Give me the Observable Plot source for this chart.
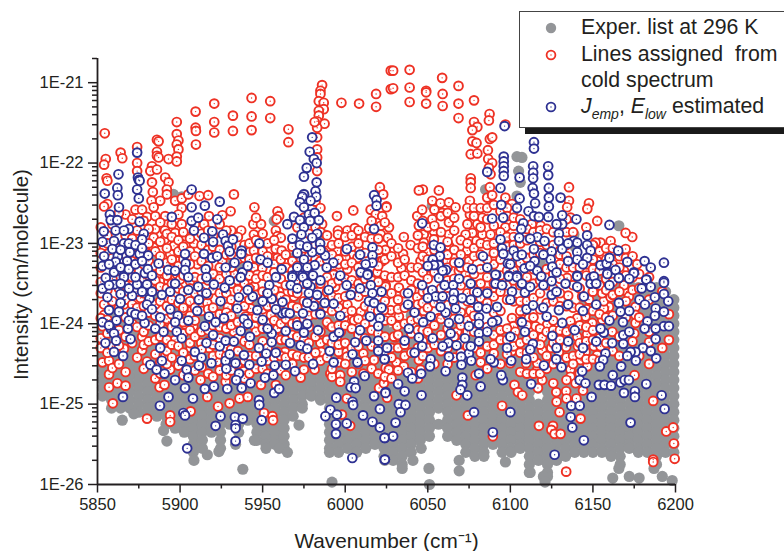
<!DOCTYPE html>
<html><head><meta charset="utf-8">
<script src="https://cdn.jsdelivr.net/npm/d3@7"></script>
<script src="https://cdn.jsdelivr.net/npm/@observablehq/plot@0.6"></script>
<style>
html,body{margin:0;padding:0;background:#fff;width:784px;height:551px;overflow:hidden}
#wrap{position:relative;width:784px;height:551px;font-family:"Liberation Sans",Arial,sans-serif;color:#231f20}
#legend{position:absolute;left:519px;top:11px;width:270px;height:115px;background:#fff;border:1px solid #444;box-sizing:content-box}
#shadow{position:absolute;left:525px;top:127px;width:259px;height:7px;background:#1a1a1a}
.row{position:absolute;left:61px;font-size:21.3px;line-height:26px;white-space:nowrap}
.row sub{font-size:14px;line-height:0;font-style:italic;vertical-align:-6px}
#legend svg{position:absolute;left:0;top:0}
</style></head><body><div id="wrap"><div id="chart"></div>
<div id="shadow"></div>
<div id="legend">
<svg width="80" height="115"><circle cx="31" cy="16" r="5.2" fill="#939598"/><circle cx="31" cy="43" r="4.4" fill="#fff" stroke="#ee3124" stroke-width="1.8"/><circle cx="31" cy="43" r="0.7" fill="#ee3124"/><circle cx="31" cy="95" r="4.4" fill="#fff" stroke="#2e3192" stroke-width="1.8"/><circle cx="31" cy="95" r="0.7" fill="#2e3192"/></svg>
<div class="row" style="top:2px">Exper. list at 296 K</div>
<div class="row" style="top:29px">Lines assigned&nbsp; from</div>
<div class="row" style="top:55px">cold spectrum</div>
<div class="row" style="top:81px"><i>J<sub>emp</sub></i>, <i>E<sub>low</sub></i> estimated</div>
</div></div>
<script>
const xTicks=[5850,5900,5950,6000,6050,6100,6150,6200];
const xMinorTicks=[5875,5925,5975,6025,6075,6125,6175];
const yTicks=[1e-26,1e-25,1e-24,1e-23,1e-22,1e-21];
const yMinorTicks=[2e-26,3e-26,4e-26,5e-26,6e-26,7e-26,8e-26,9e-26,2e-25,3e-25,4e-25,5e-25,6e-25,7e-25,8e-25,9e-25,2e-24,3e-24,4e-24,5e-24,6e-24,7e-24,8e-24,9e-24,2e-23,3e-23,4e-23,5e-23,6e-23,7e-23,8e-23,9e-23,2e-22,3e-22,4e-22,5e-22,6e-22,7e-22,8e-22,9e-22,2e-21];

// Each gray column: wavenumber, then log10(intensity) of the lines read at it
const grayColumns=[
[5853,-24,-24.1,-24.2,-24.3,-24.4,-24.5,-24.6,-24.7,-24.8,-24.9],
[5858.5,-23.95,-24.05,-24.15,-24.25,-24.35,-24.45,-24.55,-24.65,-24.75,-24.85,-24.95,-25.05],
[5864,-24,-24.1,-24.2,-24.3,-24.4,-24.5,-24.6,-24.7,-24.8,-24.9,-25,-25.05],
[5869.5,-23.95,-24.05,-24.15,-24.25,-24.35,-24.45,-24.55,-24.65,-24.75,-24.85,-24.95,-25.05],
[5875,-24,-24.1,-24.2,-24.3,-24.4,-24.5,-24.6,-24.7,-24.8,-24.9,-25,-25.1],
[5880.5,-23.95,-24.05,-24.15,-24.25,-24.35,-24.45,-24.55,-24.65,-24.75,-24.85,-24.95,-25.05,-25.15],
[5886,-24,-24.1,-24.2,-24.3,-24.4,-24.5,-24.6,-24.7,-24.8,-24.9,-25,-25.1,-25.15],
[5891.5,-23.95,-24.05,-24.15,-24.25,-24.35,-24.45,-24.55,-24.65,-24.75,-24.85,-24.95,-25.05,-25.15,-25.25],
[5897,-24,-24.1,-24.2,-24.3,-24.4,-24.5,-24.6,-24.7,-24.8,-24.9,-25,-25.1,-25.2,-25.3],
[5902.5,-23.95,-24.05,-24.15,-24.25,-24.35,-24.45,-24.55,-24.65,-24.75,-24.85,-24.95,-25.05,-25.15,-25.25,-25.35],
[5908,-24,-24.1,-24.2,-24.3,-24.4,-24.5,-24.6,-24.7,-24.8,-24.9,-25,-25.1,-25.2,-25.3,-25.4,-25.5,-25.6],
[5913.5,-23.95,-24.05,-24.15,-24.25,-24.35,-24.45,-24.55,-24.65,-24.75,-24.85,-24.95,-25.05,-25.15,-25.25,-25.35,-25.45,-25.55],
[5919,-24,-24.1,-24.2,-24.3,-24.4,-24.5,-24.6,-24.7,-24.8,-24.9,-25,-25.1,-25.2,-25.3,-25.35],
[5924.5,-23.95,-24.05,-24.15,-24.25,-24.35,-24.45,-24.55,-24.65,-24.75,-24.85,-24.95,-25.05,-25.15,-25.25,-25.35,-25.45,-25.55],
[5930,-24,-24.1,-24.2,-24.3,-24.4,-24.5,-24.6,-24.7,-24.8,-24.9,-25,-25.1,-25.2,-25.25],
[5935.5,-23.95,-24.05,-24.15,-24.25,-24.35,-24.45,-24.55,-24.65,-24.75,-24.85,-24.95,-25.05,-25.15,-25.25,-25.35],
[5941,-24,-24.1,-24.2,-24.3,-24.4,-24.5,-24.6,-24.7,-24.8,-24.9,-25,-25.1,-25.2],
[5946.5,-23.95,-24.05,-24.15,-24.25,-24.35,-24.45,-24.55,-24.65,-24.75,-24.85,-24.95,-25.05,-25.15,-25.25,-25.35,-25.45],
[5952,-24,-24.1,-24.2,-24.3,-24.4,-24.5,-24.6,-24.7,-24.8,-24.9,-25,-25.1,-25.2,-25.3,-25.4,-25.5],
[5957.5,-23.95,-24.05,-24.15,-24.25,-24.35,-24.45,-24.55,-24.65,-24.75,-24.85,-24.95,-25.05,-25.15,-25.25,-25.35,-25.45,-25.5],
[5963,-24,-24.1,-24.2,-24.3,-24.4,-24.5,-24.6,-24.7,-24.8,-24.9,-25,-25.1,-25.2,-25.3,-25.4,-25.5,-25.55],
[5968.5,-23.95,-24.05,-24.15,-24.25,-24.35,-24.45,-24.55,-24.65,-24.75,-24.85,-24.95,-25.05,-25.15],
[5974,-24,-24.1,-24.2,-24.3,-24.4,-24.5,-24.6,-24.7,-24.8,-24.9,-25,-25.05],
[5979.5,-23.95,-24.05,-24.15,-24.25,-24.35,-24.45,-24.55,-24.65,-24.75,-24.85,-24.9],
[5985,-24,-24.1,-24.2,-24.3,-24.4,-24.5,-24.6,-24.7,-24.8,-24.9,-24.95],
[5990.5,-23.95,-24.05,-24.15,-24.25,-24.35,-24.45,-24.55,-24.65,-24.75,-24.85,-24.95,-25.05,-25.15,-25.25,-25.35,-25.45,-25.55,-25.6],
[5996,-24,-24.1,-24.2,-24.3,-24.4,-24.5,-24.6,-24.7,-24.8,-24.9,-25,-25.1,-25.2,-25.3,-25.4,-25.5,-25.6],
[6001.5,-24.05,-24.15,-24.25,-24.35,-24.45,-24.55,-24.65,-24.75,-24.85,-24.95,-25.05,-25.15,-25.25,-25.35,-25.45,-25.55],
[6007,-24.1,-24.2,-24.3,-24.4,-24.5,-24.6,-24.7,-24.8,-24.9,-25,-25.1,-25.2,-25.3,-25.4,-25.5,-25.6],
[6012.5,-24.05,-24.15,-24.25,-24.35,-24.45,-24.55,-24.65,-24.75,-24.85,-24.95,-25.05,-25.15,-25.25,-25.35,-25.45,-25.55],
[6018,-24.1,-24.2,-24.3,-24.4,-24.5,-24.6,-24.7,-24.8,-24.9,-25,-25.1,-25.2,-25.3,-25.4,-25.5],
[6023.5,-24.05,-24.15,-24.25,-24.35,-24.45,-24.55,-24.65,-24.75,-24.85,-24.95,-25.05,-25.15,-25.25,-25.35,-25.45,-25.55,-25.65],
[6029,-24.1,-24.2,-24.3,-24.4,-24.5,-24.6,-24.7,-24.8,-24.9,-25,-25.1,-25.2,-25.3,-25.4,-25.5,-25.6,-25.7],
[6034.5,-24.05,-24.15,-24.25,-24.35,-24.45,-24.55,-24.65,-24.75,-24.85,-24.95,-25.05,-25.15,-25.25,-25.35,-25.45,-25.55,-25.65,-25.75,-25.8],
[6040,-24.1,-24.2,-24.3,-24.4,-24.5,-24.6,-24.7,-24.8,-24.9,-25,-25.1,-25.2,-25.3,-25.4,-25.5,-25.6],
[6045.5,-24.05,-24.15,-24.25,-24.35,-24.45,-24.55,-24.65,-24.75,-24.85,-24.95,-25.05,-25.15,-25.25,-25.35,-25.45],
[6051,-24.1,-24.2,-24.3,-24.4,-24.5,-24.6,-24.7,-24.8,-24.9,-25,-25.1,-25.2,-25.3,-25.4],
[6056.5,-24.05,-24.15,-24.25,-24.35,-24.45,-24.55,-24.65,-24.75,-24.85,-24.95,-25.05,-25.25],
[6062,-24.1,-24.2,-24.3,-24.4,-24.5,-24.6,-24.7,-24.8,-24.9,-25,-25.1,-25.2,-25.3,-25.4],
[6067.5,-24.05,-24.15,-24.25,-24.35,-24.45,-24.55,-24.65,-24.75,-24.85,-24.95,-25.05,-25.15,-25.25,-25.35,-25.45],
[6073,-24.1,-24.2,-24.3,-24.4,-24.5,-24.6,-24.7,-24.8,-24.9,-25,-25.1,-25.2,-25.3,-25.4,-25.5,-25.6],
[6078.5,-24.05,-24.15,-24.25,-24.35,-24.45,-24.55,-24.65,-24.75,-24.85,-24.95,-25.05,-25.15,-25.25,-25.35,-25.45,-25.55,-25.65],
[6084,-24.1,-24.2,-24.3,-24.4,-24.5,-24.6,-24.7,-24.8,-24.9,-25,-25.1,-25.2,-25.3,-25.4,-25.5,-25.6,-25.65],
[6089.5,-24.05,-24.15,-24.25,-24.35,-24.45,-24.55,-24.65,-24.75,-24.85,-24.95,-25.05,-25.15,-25.25,-25.35,-25.45,-25.5],
[6095,-24.1,-24.2,-24.3,-24.4,-24.5,-24.6,-24.7,-24.8,-24.9,-25,-25.1,-25.2,-25.3,-25.4,-25.5,-25.6],
[6100.5,-24.05,-24.15,-24.25,-24.35,-24.45,-24.55,-24.65,-24.75,-24.85,-24.95,-25.05,-25.15,-25.25,-25.35,-25.45,-25.55,-25.6],
[6106,-24.1,-24.2,-24.3,-24.4,-24.5,-24.6,-24.7,-24.8,-24.9,-25,-25.1,-25.2,-25.3,-25.4,-25.5,-25.55],
[6111.5,-24.15,-24.25,-24.35,-24.45,-24.55,-24.65,-24.75,-24.85,-24.95,-25.05,-25.15,-25.25,-25.35,-25.45,-25.55,-25.65,-25.75,-25.85],
[6117,-24.2,-24.3,-24.4,-24.5,-24.6,-24.7,-24.8,-25,-25.1,-25.2,-25.3,-25.4,-25.5,-25.6,-25.7],
[6122.5,-24.15,-24.25,-24.35,-24.45,-24.55,-24.65,-24.75,-24.85,-24.95,-25.05,-25.15,-25.25,-25.35,-25.45,-25.55,-25.65,-25.75,-25.85,-25.9],
[6128,-24.1,-24.2,-24.3,-24.4,-24.5,-24.6,-24.7,-24.8,-24.9,-25,-25.1,-25.2,-25.3,-25.4,-25.5,-25.6,-25.7],
[6133.5,-24.05,-24.15,-24.25,-24.35,-24.45,-24.55,-24.65,-24.75,-24.85,-24.95,-25.05,-25.15,-25.25,-25.35,-25.45,-25.55,-25.65],
[6139,-24,-24.1,-24.2,-24.3,-24.4,-24.5,-24.6,-24.7,-24.8,-24.9,-25,-25.1,-25.2,-25.3,-25.4,-25.5,-25.6],
[6144.5,-23.75,-23.85,-23.95,-24.05,-24.15,-24.25,-24.35,-24.45,-24.55,-24.65,-24.75,-24.85,-24.95,-25.05,-25.15,-25.25,-25.35,-25.45,-25.55,-25.6],
[6150,-23.6,-23.7,-23.8,-23.9,-24,-24.1,-24.2,-24.3,-24.4,-24.5,-24.6,-24.7,-24.8,-24.9,-25,-25.1,-25.2,-25.3,-25.4,-25.5,-25.6],
[6155.5,-23.55,-23.65,-23.75,-23.85,-23.95,-24.05,-24.15,-24.25,-24.35,-24.45,-24.55,-24.65,-24.75,-24.85,-24.95,-25.05,-25.15,-25.25,-25.35,-25.45,-25.55,-25.6],
[6161,-23.5,-23.6,-23.7,-23.8,-23.9,-24,-24.1,-24.2,-24.3,-24.4,-24.5,-24.6,-24.7,-24.8,-24.9,-25,-25.1,-25.2,-25.3,-25.4,-25.5,-25.6,-25.65],
[6166.5,-23.55,-23.65,-23.75,-23.85,-23.95,-24.05,-24.15,-24.25,-24.35,-24.45,-24.55,-24.65,-24.75,-24.85,-24.95,-25.05,-25.15,-25.25,-25.35,-25.45,-25.55,-25.65,-25.75],
[6172,-23.5,-23.6,-23.7,-23.8,-23.9,-24,-24.1,-24.2,-24.3,-24.4,-24.5,-24.6,-24.7,-24.8,-24.9,-25,-25.1,-25.2,-25.3,-25.4,-25.5,-25.55],
[6177.5,-23.55,-23.65,-23.75,-23.85,-23.95,-24.05,-24.15,-24.25,-24.35,-24.45,-24.55,-24.65,-24.75,-24.85,-24.95,-25.05,-25.15,-25.25,-25.35,-25.45,-25.55,-25.6],
[6183,-23.5,-23.6,-23.7,-23.8,-23.9,-24,-24.1,-24.2,-24.3,-24.4,-24.5,-24.6,-24.7,-24.8,-24.9,-25,-25.1,-25.2,-25.3,-25.4,-25.5,-25.6],
[6188.5,-23.55,-23.65,-23.75,-23.85,-23.95,-24.05,-24.15,-24.25,-24.35,-24.45,-24.55,-24.65,-24.75,-24.85,-24.95,-25.05,-25.15,-25.25,-25.35,-25.45,-25.55,-25.65,-25.75],
[6194,-23.6,-23.7,-23.8,-23.9,-24,-24.1,-24.2,-24.3,-24.4,-24.5,-24.6,-24.7,-24.8,-24.9,-25,-25.1,-25.2,-25.3,-25.4,-25.5,-25.6],
[6199,-23.7,-23.8,-23.9,-24,-24.1,-24.2,-24.3,-24.4,-24.5,-24.6,-24.7,-24.8,-24.9,-25,-25.1,-25.2,-25.3,-25.4,-25.5,-25.6]
];
// Gray lines standing apart from the main mass
const grayIsolated=[[5865,-25.2],[5872,-25.12],[5890,-25.33],[5892,-25.46],[5908.4,-25.7],[5916.5,-25.63],[5923.5,-25.59],[5933.6,-25.5],[5938,-25.81],[5945,-25.45],[5952,-25.55],[5960,-25.55],[5965,-25.6],[5972,-25.26],[5992,-25.97],[6024,-25.7],[6050.7,-25.8],[6051,-26],[6069,-25.7],[6069,-25.83],[6097,-25.72],[6112,-25.85],[6120,-25.9],[6121,-25.97],[6162,-25.92],[6165.7,-25.8],[6172,-25.9],[6178,-25.92],[6187,-25.8],[6192,-25.9],[6198,-25.95],[6046,-25.55],[6041,-25.7],
[5896,-22.39],[5901,-22.42],[5959,-22.68],[5957,-22.72],[5975,-22.39],[5987,-22.89],[5968,-23.18],[5887,-23.18],[5932,-23.22],[5936,-23.3],[6104,-21.92],[6107,-21.93],[6105,-22.1],[6106,-22.24],[6104,-22.41],[6085,-22.33],[6052.7,-22.53],[6165.7,-22.78],[6138.5,-22.89],[6139.5,-23.05],[6140.5,-23.26],[6118,-23.22],[6120,-23.3],[6090,-23.38],[6154,-23.38],[5860,-23.85],[5885,-23.7],[5900,-23.8],[5925,-23.85],[5945,-23.75],[5970,-23.7],[5985,-23.8],[6010,-23.85],[6040,-23.9],[6075,-23.85],[6110,-23.95],[6135,-23.75]];

const redLines=[[5854.4,-21.63],[5855,-21.95],[5854,-22.02],[5864,-21.87],[5865,-21.94],[5855.5,-22.19],[5856,-22.22],[5874,-21.8],[5874,-22],[5874,-22.1],[5886,-21.71],[5887,-21.73],[5886,-21.86],[5886,-21.91],[5887,-21.93],[5893,-21.95],[5898,-21.49],[5898,-21.64],[5899,-21.72],[5898,-21.77],[5899,-21.83],[5898,-21.92],[5898,-21.98],[5909.4,-21.36],[5909.4,-21.56],[5909.6,-21.6],[5909.6,-21.77],[5920.7,-21.26],[5920.7,-21.49],[5920.7,-21.62],[5932,-21.41],[5932,-21.6],[5943.3,-21.19],[5943.3,-21.42],[5943.3,-21.59],[5954.6,-21.23],[5954.6,-21.44],[5965.6,-21.58],[5965.6,-21.74],[5986,-21.03],[5985,-21.1],[5985,-21.14],[5984,-21.23],[5987,-21.25],[5987,-21.33],[5984,-21.35],[5984,-21.41],[5983,-21.48],[5987.5,-21.51],[5983,-21.56],[5981.5,-21.49],[5983,-21.68],[5983,-21.83],[5983,-21.93],[5983,-22.1],[5997.7,-21.25],[6008.4,-21.26],[6018.7,-21.14],[6018.7,-21.3],[6027.6,-20.85],[6027.6,-21.08],[6029,-20.85],[6039,-20.84],[6029,-21.07],[6039,-21.06],[6039,-21.24],[6049,-21.1],[6049,-21.12],[6049,-21.26],[6058.7,-20.94],[6059,-21.14],[6059,-21.29],[6068.6,-21.04],[6068.6,-21.26],[6068.6,-21.44],[6078,-21.22],[6087.4,-21.39],[6087,-21.47],[6078,-21.49],[6080,-21.55],[6077,-21.59],[6087.6,-21.7],[6089,-21.68],[6077,-21.73],[6079.5,-21.75],[6086.4,-21.84],[6076,-21.89],[6080,-21.88],[6086.6,-21.95],[6089,-22],[6087,-22.06],[6088,-22.14],[6076,-22.19],[6076,-22.24],[6076,-22.31],[6097,-21.52],[6087.6,-22.3],[6135.5,-22.3],[6047,-22.33],[6044.6,-22.34],[6056.7,-22.34],[6147.6,-22.5],[6146.6,-22.57],[6075.5,-22.47],[6152.6,-22.72],[6173.8,-22.92],[6169.8,-22.87],
[5883,-22.04],[5882,-22.1],[5886,-22.08],[5883,-22.24],[5891,-22.18],[5893,-22.24],[5883.5,-22.36],[5892,-22.33],[5892,-22.39],[5882.7,-22.47],[5888,-22.47],[5897,-22.47],[5901,-22.44],[5905,-22.39],[5911.8,-22.41],[5917,-22.4],[5932.6,-22.39],[5873,-22.58],[5877,-22.58],[5884,-22.55],[5901,-22.56],[5945,-22.55],[5930.6,-22.6],[5925.6,-22.65],[5917.5,-22.66],[5959,-22.6],[5960,-22.66],[5958.5,-22.7],[6004.9,-22.59],[5995,-22.66],[6015.4,-22.58],[6018.5,-22.64],[6025,-22.54],[6021,-22.3],[6023,-22.39],[5867,-22.64],[5880,-22.67],[5891,-22.66],[5856,-22.51],[5854,-22.54],[5944.4,-22.76],[5949,-22.76],[5944.7,-22.89],[5931,-22.84],[5937,-22.84],[5958,-22.84],[5959,-22.91],[5961,-22.93],[5995.6,-22.84],[6001.3,-22.84],[6005.8,-22.81],[6009.4,-22.93],[5995.6,-22.89],[6014.5,-22.81],[6021.5,-22.78],[6025.5,-22.93],[6024.5,-23.09],[6021.5,-22.89],[6008.4,-23.08],[6000.3,-23.18],[5995.3,-23.09],[5989.6,-23.09],[5996,-23.26],[5993,-23.38],[6001.3,-23.32],[6007.4,-23.18],[6021.5,-23.22],[6019.5,-23.36],[5885,-22.82],[5890.8,-22.84],[5897,-22.87],[5901,-22.76],[5884,-22.93],[5890.6,-22.95],[5896.3,-23.03],[5903.4,-22.91],[5884,-23.05],[5894,-23.13],[5898,-23.22],[5914.5,-22.76],[5908.4,-23],[5944.7,-23.09],[5957.9,-23.07],[5961.5,-23.09],[5956.9,-23.18],[5959,-23.18],[5944.7,-23.3],[5949.8,-23.31],[5956.9,-23.26],[5986,-22.76],[5987,-23.11],[5910.4,-23.26],[5925.6,-23.22],[5932.6,-23.38],[5852,-22.8],[5854,-23.03],[5852,-23.3],[5870,-23.34],[5864,-23.3],[5886,-23.38],[5898,-23.38],
[6025,-22.55],[6022.4,-22.66],[6026.5,-22.8],[6025.8,-22.93],[6035.5,-22.92],[6039.6,-23.02],[6024.4,-23.08],[6035,-23.13],[6034,-23.31],[6022.4,-23.22],[6043.6,-22.66],[6046.6,-22.58],[6052.7,-22.47],[6057.7,-22.5],[6062.8,-22.49],[6066.8,-22.55],[6052.7,-22.7],[6058.7,-22.62],[6062.8,-22.74],[6044.6,-22.78],[6053.7,-22.85],[6047.6,-22.89],[6062.8,-22.89],[6047.6,-22.99],[6053.7,-22.95],[6062.8,-23.03],[6049.7,-23.11],[6045.6,-23.22],[6049.7,-23.3],[6068.8,-23.34],[6061.8,-23.22],[6073.9,-23.09],[6074.9,-23.22],[6072.9,-23.38],[6075.5,-22.64],[6080,-22.76],[6077,-22.87],[6072.9,-22.89],[6079.5,-22.97],[6083,-22.68],[6086,-22.43],[6097,-22.43],[6102,-22.6],[6089,-22.4],[6101,-22.51],[6097,-22.8],[6102,-22.78],[6090,-23.26],[6083,-22.89],[6088,-22.89],[6135.5,-22.47],[6134.4,-22.55],[6118.3,-22.78],[6113,-22.76],[6136.5,-22.68],[6154.6,-22.99],[6160.7,-22.97],[6151.6,-22.99],[6169.8,-23.07],[6160.7,-23.11],[6176.8,-23.26],[6152.6,-23.22],[6134.4,-23.43],[6126,-23.38],[6168.8,-23.34],
[5853,-24.48],[5857,-24.46],[5857,-24.63],[5862,-24.74],[5857,-24.79],[5867,-24.77],[5859.3,-24.99],[5866,-24.31],[5880,-25.18],[5894,-25.14],[5894,-25.22],[5877,-24.33],[5880,-24.47],[5877,-24.16],[5887.6,-24.79],[5890.6,-24.76],[5916.5,-24.91],[5923,-25.03],[5930,-24.99],[5936,-24.93],[5906.4,-25.09],[5941,-24.91],[5955.9,-25.15],[5956.3,-25.2],[5950.8,-25.11],[5927.6,-24.72],[5912.4,-24.7],[5894,-24.57],[5854,-23.89],[5852,-23.93],[5853,-24.03],[5876,-23.89],[5903,-24.01],[5908,-24.03],[5912.8,-24.24],[5906.4,-24.3],[5897,-24.2],[5891,-24.41],[5899,-24.45],[5917.6,-24.3],[5922.5,-24.47],[5932.6,-24.1],[5938.7,-24.59],[5944.3,-23.54],[5955,-23.89],[5959,-24.06],[5945,-24.03],[5963.5,-24.35],[5959,-24.35],[5949,-24.76],[5958,-24.76],[5973,-24.67],[5975,-24.57],[5981.5,-24.57],[5985,-24.24],[5985.5,-24.35],[5990,-24.01],[6001.3,-23.76],[6009.4,-23.85],[6005.4,-23.96],[5999.3,-23.93],[5997.3,-24.1],[5995,-24.16],[5996,-24.35],[5991,-24.62],[5992,-24.66],[5997,-24.64],[5997,-24.72],[6011,-24.62],[6001,-24.35],[6001,-24.41],[6011,-24.37],[6017.5,-24.45],[6020.5,-24.8],[6023.5,-24.73],[6024.5,-24.55],[6001,-24.93],[6003,-25.27],[5998,-25.13],[6024.5,-23.52],[6025.5,-23.64],[6009.4,-23.38],[5993,-23.39],[5994,-23.54],[5969,-23.66],[5960,-23.6],[5946.8,-23.39],[5945,-23.54],[5888,-23.48],[5893,-23.47],[5900,-23.45],[5906,-23.47],[5854,-23.76],[5866,-23.76],[5876,-23.68],[5902,-23.83],[5893,-23.97],[5906.4,-23.74],[5916.5,-23.74],[5942.7,-23.81],[5939.6,-23.91],[5929,-23.79],
[6024.4,-23.54],[6032.5,-23.55],[6043.6,-23.67],[6025,-23.64],[6027.5,-23.83],[6032.5,-23.91],[6023.4,-23.83],[6031.5,-24.03],[6030.5,-24.17],[6029.5,-24.16],[6025.4,-24.43],[6031,-24.48],[6035.5,-24.53],[6026.4,-24.57],[6044.6,-24.45],[6045.6,-24.57],[6023.4,-24.74],[6025.4,-24.92],[6051.7,-24.16],[6047.6,-23.84],[6056.7,-23.93],[6067.8,-24.1],[6071.9,-23.89],[6075.9,-23.84],[6080,-23.52],[6090,-24.37],[6101,-24.34],[6100,-24.49],[6109.6,-24.49],[6079,-24.64],[6102.5,-24.76],[6104.6,-24.85],[6107.2,-24.89],[6067.4,-24.89],[6095,-25.02],[6074.3,-25.14],[6089.4,-25.4],[6117.3,-25.27],[6125.8,-25.27],[6124.8,-25.32],[6126.8,-25.37],[6130.4,-25.37],[6133.8,-25.84],[6116.7,-24.8],[6119.3,-24.7],[6116.3,-24.57],[6116.3,-24.49],[6119.3,-24.17],[6119.3,-24.33],[6124.8,-24.3],[6129.4,-24.35],[6133.8,-24.29],[6140.9,-24.28],[6140.5,-24.16],[6145.5,-24.35],[6150.6,-24.28],[6146.5,-24.13],[6149.6,-23.99],[6145.5,-23.91],[6140.5,-23.93],[6136.4,-23.97],[6122.3,-24.01],[6115.3,-24.03],[6108.2,-23.95],[6101,-23.93],[6102,-24.03],[6103,-24.1],[6111.2,-23.93],[6106,-23.97],[6154.6,-24.28],[6152.6,-24.39],[6142.5,-24.45],[6146.6,-24.53],[6136.4,-24.57],[6136.4,-24.66],[6139.5,-24.74],[6144,-24.83],[6126,-24.74],[6127.8,-24.85],[6133.8,-24.84],[6134,-24.93],[6128,-24.97],[6140,-24.93],[6129.8,-25.1],[6142.5,-25.18],[6155.6,-23.95],[6161.7,-24.1],[6159.7,-23.79],[6156.6,-23.81],[6156.6,-23.72],[6170.4,-23.6],[6168.8,-23.52],[6171.8,-23.66],[6175.8,-23.79],[6175.8,-23.89],[6175.8,-23.99],[6175,-24.12],[6155.6,-23.62],[6160.7,-23.67],[6147.6,-23.7],[6135,-23.65],[6143.5,-23.66],[6184,-24.23],[6175.2,-24.64],[6186.5,-24.96],[6194.4,-25.34],[6198.6,-25.29],[6199,-25.49],[6186.5,-25.69],[6186.5,-25.72],[6199.5,-25.68]];

// Dense red chains, estimated by eye: wavenumber, then log10(intensity)
const redChains=[
[5852,-23.12,-23.48,-23.62,-24.18,-24.3],
[5856,-22.9,-23,-23.25,-23.58,-23.95,-24.12,-24.36],
[5859,-22.76,-23.18,-23.44,-23.72,-24,-24.28,-24.55],
[5863,-22.62,-23.06,-23.34,-23.56,-23.8,-24.08,-24.27,-24.5],
[5867,-22.9,-23.14,-23.3,-23.52,-23.7,-23.92,-24.16,-24.6],
[5871,-22.7,-22.94,-23.22,-23.42,-23.76,-24,-24.24],
[5874,-22.84,-23.04,-23.24,-23.6,-23.8,-24.04,-24.42],
[5878,-22.72,-23.08,-23.26,-23.44,-23.62,-23.78,-24.1,-24.26,-24.56],
[5881,-22.82,-23,-23.22,-23.4,-23.6,-23.86,-24.02,-24.22],
[5885,-22.66,-23.1,-23.28,-23.46,-23.58,-23.76,-23.9,-24.2,-24.38,-24.68],
[5888,-22.74,-22.98,-23.16,-23.34,-23.54,-23.72,-24,-24.16,-24.48,-24.62],
[5892,-22.88,-23.06,-23.24,-23.4,-23.56,-23.78,-23.94,-24.2,-24.34,-24.5],
[5895,-22.76,-22.92,-23.2,-23.32,-23.5,-23.7,-23.88,-24.04,-24.26,-24.42],
[5899,-22.64,-22.96,-23.1,-23.28,-23.56,-23.74,-23.92,-24.28,-24.52],
[5902,-22.86,-23.04,-23.2,-23.4,-23.6,-23.8,-23.98,-24.12,-24.36,-24.64],
[5906,-22.94,-23.1,-23.26,-23.56,-23.72,-23.9,-24.08,-24.24,-24.44],
[5909,-22.76,-23.16,-23.42,-23.62,-23.8,-23.96,-24.16,-24.4,-24.58],
[5913,-22.88,-23.02,-23.22,-23.44,-23.6,-23.84,-24.1,-24.32,-24.54],
[5917,-22.84,-23.08,-23.28,-23.46,-23.64,-23.82,-24.08,-24.22,-24.62],
[5920,-22.9,-23.04,-23.38,-23.58,-23.8,-24.02,-24.26,-24.4,-24.66],
[5924,-22.76,-23.08,-23.3,-23.44,-23.62,-23.88,-24.04,-24.18,-24.38,-24.58],
[5928,-22.84,-23.14,-23.38,-23.62,-23.86,-24.06,-24.3,-24.4,-24.64],
[5931,-23.04,-23.14,-23.3,-23.5,-23.7,-23.9,-24.02,-24.32,-24.58],
[5935,-22.92,-23.2,-23.46,-23.58,-23.76,-23.98,-24.18,-24.34,-24.5],
[5939,-23.02,-23.18,-23.5,-23.62,-23.78,-24.02,-24.22,-24.46,-24.68],
[5942,-23,-23.2,-23.4,-23.56,-23.7,-23.94,-24.26,-24.4,-24.62],
[5946,-22.68,-22.96,-23.18,-23.44,-23.64,-23.92,-24.1,-24.4,-24.56],
[5950,-22.88,-23.1,-23.4,-23.6,-23.82,-24.06,-24.22,-24.56],
[5953,-23,-23.16,-23.42,-23.62,-23.78,-24,-24.3,-24.46,-24.62],
[5957,-22.96,-23.36,-23.58,-23.76,-23.96,-24.16,-24.42,-24.6],
[5961,-23.2,-23.44,-23.66,-23.84,-24,-24.2,-24.4,-24.58],
[5964,-23.14,-23.3,-23.52,-23.7,-23.94,-24.2,-24.42,-24.64],
[5968,-23.04,-23.22,-23.34,-23.6,-23.78,-24,-24.14,-24.38,-24.5],
[5971,-22.8,-23.12,-23.28,-23.46,-23.62,-23.8,-23.98,-24.16,-24.4],
[5975,-22.68,-23.06,-23.3,-23.5,-23.72,-23.94,-24.2,-24.42],
[5978,-22.88,-23.16,-23.3,-23.46,-23.7,-23.9,-24.04,-24.24,-24.42],
[5982,-22.48,-22.8,-23.02,-23.2,-23.5,-23.72,-23.88,-24.16,-24.36],
[5985,-22.56,-22.86,-23.06,-23.22,-23.5,-23.68,-23.86,-24.1,-24.46],
[5989,-22.9,-23.2,-23.42,-23.6,-23.8,-23.98,-24.2,-24.42],
[5992,-23.02,-23.14,-23.5,-23.66,-23.84,-24.04,-24.24,-24.56],
[5996,-23,-23.2,-23.46,-23.68,-23.8,-24.02,-24.26,-24.48],
[6000,-22.92,-23.1,-23.26,-23.44,-23.66,-23.86,-24.02,-24.24,-24.5],
[6004,-22.9,-23.04,-23.24,-23.46,-23.6,-23.84,-24.06,-24.3,-24.6],
[6008,-22.84,-23,-23.3,-23.5,-23.66,-23.94,-24.14,-24.28,-24.5],
[6012,-22.92,-23.12,-23.44,-23.6,-23.78,-24,-24.18,-24.46],
[6016,-22.72,-22.94,-23.46,-23.82,-24.08,-24.28,-24.56],
[6020,-22.94,-23.08,-23.28,-23.48,-23.66,-23.84,-24.12,-24.3,-24.62],
[6024,-22.74,-23.2,-23.4,-23.72,-23.96,-24.16,-24.34,-24.66],
[6028,-23,-23.16,-23.42,-23.62,-23.96,-24.3,-24.42,-24.68],
[6032,-23.06,-23.24,-23.42,-23.7,-23.82,-24.14,-24.3,-24.58],
[6036,-23.2,-23.4,-23.62,-23.8,-24,-24.26,-24.4],
[6040,-23.3,-23.46,-23.58,-23.78,-23.96,-24.12,-24.36,-24.6],
[6044,-22.9,-23.06,-23.3,-23.5,-23.76,-23.94,-24.08,-24.3,-24.68],
[6047,-22.72,-23.04,-23.16,-23.36,-23.6,-23.74,-24.08,-24.22,-24.4],
[6050,-22.8,-23.2,-23.44,-23.6,-23.8,-23.96,-24.1,-24.3],
[6054,-22.58,-22.78,-23.08,-23.36,-23.74,-24.02,-24.26,-24.5],
[6058,-22.66,-22.86,-23.1,-23.3,-23.56,-23.7,-23.94,-24.14,-24.34],
[6062,-22.62,-22.98,-23.14,-23.3,-23.46,-23.66,-23.9,-24.06,-24.3,-24.5],
[6066,-22.68,-22.84,-23.08,-23.24,-23.44,-23.74,-23.94,-24.16,-24.42],
[6070,-22.96,-23.14,-23.3,-23.52,-23.86,-24.02,-24.24,-24.36],
[6074,-22.56,-22.76,-23,-23.3,-23.46,-23.62,-23.72,-23.96,-24.1,-24.28],
[6078,-22.56,-22.66,-23.06,-23.16,-23.38,-23.6,-23.7,-23.9,-24.1,-24.3],
[6082,-22.56,-22.8,-23,-23.14,-23.32,-23.5,-23.68,-24.36,-24.48],
[6086,-22.56,-22.7,-23.02,-23.2,-23.42,-23.6,-23.74,-24.04,-24.28,-24.56],
[6090,-22.52,-22.78,-23,-23.12,-23.5,-23.66,-23.86,-24.14,-24.26],
[6094,-22.6,-22.86,-23.2,-23.4,-23.6,-23.84,-24.08,-24.2,-24.5],
[6098,-22.56,-22.66,-22.92,-23.04,-23.34,-23.52,-23.7,-24.06,-24.2,-24.38],
[6102,-22.68,-22.92,-23.02,-23.24,-23.34,-23.46,-23.72,-24.18,-24.28],
[6106,-22.7,-23,-23.24,-23.52,-23.72,-23.84,-24.24,-24.36,-24.6],
[6110,-22.82,-22.96,-23.18,-23.42,-23.72,-24.02,-24.2,-24.36,-24.62],
[6114,-22.86,-23.14,-23.32,-23.5,-23.68,-23.92,-24.14,-24.42,-24.62],
[6118,-22.84,-22.98,-23.12,-23.46,-23.62,-23.82,-24.06,-24.26,-24.62],
[6122,-22.82,-23.02,-23.32,-23.52,-23.74,-24.1,-24.4,-24.56],
[6126,-22.86,-23.02,-23.38,-23.56,-23.72,-23.96,-24.08,-24.24,-24.5],
[6130,-23.14,-23.26,-23.44,-23.62,-23.78,-24.08,-24.2,-24.48],
[6134,-22.7,-22.86,-23.02,-23.16,-23.3,-23.78,-24.1,-24.42,-24.7],
[6138,-22.86,-23.3,-23.52,-23.8,-24.06,-24.4,-24.5],
[6142,-23.3,-23.56,-23.8,-24.02,-24.24,-24.38,-24.62],
[6146,-22.8,-23.26,-23.4,-23.82,-24.04,-24.22,-24.44],
[6150,-23.02,-23.2,-23.32,-23.6,-23.84,-24.08,-24.2,-24.44],
[6154,-23.1,-23.34,-23.52,-23.88,-24.18,-24.46],
[6158,-23.06,-23.2,-23.44,-23.58,-23.92,-24.24],
[6162,-23.06,-23.26,-23.48,-23.64,-23.9,-24.34],
[6166,-23.16,-23.3,-23.6,-24.16,-24.4],
[6170,-23.18,-23.4,-23.72,-23.92],
[6174,-23.16,-23.42,-23.58,-24.22],
[6178,-23.38,-23.56,-23.92,-24.4],
[6184,-23.42,-23.7,-24.1,-24.5],
[6192,-23.6,-24.3],
[6196,-23.88,-24.2]
];

const blueLines=[[5874,-21.87],[5862.7,-22.14],[5874.5,-22.18],[5875,-22.21],[5875.5,-22.22],[5862,-22.31],[5874,-22.33],[5854.4,-22.38],[5862.3,-22.4],[5875,-22.44],[5863,-22.55],[5907,-22.33],[5907,-22.55],[5915,-22.53],[5924,-22.48],[5895,-22.67],[5907,-22.72],[5911,-22.68],[5922.5,-22.7],[5857.5,-22.64],[5858,-22.71],[5862,-22.71],[5875.5,-22.73],[5853.8,-22.85],[5861,-22.84],[5869,-22.82],[5866,-22.84],[5878,-22.88],[5877,-22.95],[5860,-22.97],[5866,-23],[5859,-23.07],[5854,-23.16],[5862.3,-23.16],[5869.6,-23.11],[5875.5,-23.13],[5880.7,-23.15],[5868,-23.22],[5861,-23.23],[5860,-23.36],[5866,-23.4],[5878.7,-23.37],[5880.5,-23.32],[5887,-23.25],[5892.8,-23.33],[5903,-23.13],[5903.4,-23.25],[5903,-23.33],[5908.4,-22.84],[5914.5,-22.93],[5914.5,-23.13],[5919.5,-22.85],[5920,-22.98],[5919.5,-23.18],[5922.5,-23.16],[5926,-22.89],[5927.6,-22.97],[5929,-23.03],[5932,-22.95],[5937.3,-23.09],[5937,-23.13],[5933,-23.24],[5927.6,-23.3],[5915.5,-23.32],[5937.7,-23.36],[5936.7,-23.42],[5948,-23],[5948.8,-23.2],[5961.5,-23.32],[5968,-23.4],[5980,-21.68],[5978.5,-21.86],[5981,-21.95],[5982.7,-22],[5976.7,-22.06],[5975,-22.17],[5982.7,-22.24],[5982,-22.35],[5975,-22.39],[5974,-22.42],[5972.6,-22.49],[5982.5,-22.42],[5979,-22.47],[5975,-22.55],[5969,-22.67],[5972.6,-22.71],[5965,-22.76],[5978,-22.64],[5981.5,-22.62],[5984,-22.71],[5975,-22.8],[5978.7,-22.72],[5983,-22.88],[5973.5,-22.89],[5968,-22.94],[5972.6,-23.02],[5980,-22.93],[5984.8,-23],[5980,-23.11],[5987.8,-23.15],[5975,-23.2],[5992.8,-23.24],[5981.5,-23.27],[5988.8,-23.3],[5974,-23.4],[5980,-23.4],[6001,-23.07],[6017.5,-22.4],[6019,-22.46],[6019,-22.53],[6017.5,-22.82],[6016.5,-23.05],[6016.5,-23.15],[6016.5,-23.24],[6012.4,-23.26],[6009.4,-23.36],[6013.8,-23.38],
[6096.5,-21.54],[6114.3,-21.74],[6114.3,-21.82],[6096,-21.92],[6096,-21.98],[6096,-22.04],[6096,-22.1],[6096,-22.16],[6086,-22.11],[6105.6,-22.18],[6094,-22.31],[6113.8,-22.04],[6113.8,-22.12],[6113.8,-22.19],[6122.9,-22.04],[6122.9,-22.15],[6113.5,-22.31],[6114.3,-22.38],[6123.3,-22.31],[6123.3,-22.43],[6123.3,-22.54],[6123,-22.67],[6130.4,-22.43],[6105.6,-22.44],[6094.5,-22.52],[6104,-22.56],[6115,-22.5],[6111,-22.6],[6114.3,-22.66],[6117.3,-22.67],[6095.7,-22.68],[6089,-22.69],[6046.6,-22.75],[6131.4,-22.65],[6131.4,-22.76],[6128,-22.76],[6140,-22.7],[6107.8,-22.75],[6106.6,-22.82],[6129.4,-22.88],[6105.4,-22.93],[6116.3,-22.92],[6094,-22.95],[6095,-23.06],[6095.7,-23.13],[6102,-23.09],[6104,-23.16],[6114.3,-23.07],[6120.7,-22.97],[6129.4,-22.97],[6131.4,-23.07],[6125,-23.1],[6124.4,-23.2],[6125.4,-23.29],[6138.5,-22.97],[6140.5,-22.99],[6146.5,-22.9],[6146.5,-23.02],[6148.6,-23.09],[6140.5,-23.11],[6140.5,-23.2],[6146.5,-23.18],[6160,-22.77],[6165.3,-23.09],[6154.6,-23.27],[6158.3,-23.25],[6159,-23.36],[6163.7,-23.33],[6170.8,-23.23],[6174.8,-23.36],[6181.3,-23.22],[6193,-23.24],[6140.5,-23.4],[6148.6,-23.43],[6053.7,-23.02],[6057.7,-23.05],[6057.3,-23.16],[6053,-23.2],[6056.7,-23.27],[6061,-23.33],[6053.7,-23.27],[6077,-23.32],[6083.4,-23.16],[6098.5,-23.25],[6091.4,-23.39],[6099,-23.4],[6104,-23.4],[6108.6,-23.31],[6114.7,-23.22],[6116.3,-23.34],[6118.7,-23.41],[6165.7,-23.43],[6182.5,-23.45],[6193,-23.47],
[5855,-23.43],[5860,-23.51],[5866,-23.42],[5874,-23.51],[5880,-23.51],[5856,-23.67],[5864,-23.63],[5871,-23.65],[5881.5,-23.69],[5880,-23.76],[5857,-23.83],[5863,-23.85],[5870.6,-23.86],[5861.5,-23.96],[5858,-24.06],[5860,-24.12],[5868.4,-24.06],[5870,-24.19],[5878.5,-23.99],[5885,-24.06],[5890,-24.1],[5898,-24.1],[5901,-24.18],[5854.8,-24.24],[5861.3,-24.21],[5860,-24.35],[5865.5,-24.4],[5888,-24.3],[5889,-24.46],[5882,-24.51],[5885.8,-24.57],[5890.6,-24.62],[5897,-24.7],[5903,-24.8],[5901,-24.46],[5904,-24.57],[5905,-24.67],[5909,-24.35],[5913,-24.42],[5911.4,-24.52],[5865.4,-24.91],[5893,-24.91],[5887.8,-25.02],[5907.8,-24.93],[5902,-25.11],[5903,-25.14],[5904.3,-25.55],[5915,-24.81],[5920.5,-24.78],[5928.6,-24.81],[5937.3,-24.8],[5942.7,-24.74],[5924.5,-25.15],[5921.5,-25.27],[5933.2,-25.16],[5938,-25.18],[5933.6,-25.26],[5933.6,-25.3],[5933.6,-25.46],[5949.4,-25.2],[5947.8,-24.95],[5948,-25.01],[5957,-24.86],[5960,-24.81],[5919,-24.49],[5924,-24.28],[5927.6,-24.21],[5927.6,-24.46],[5928,-24.56],[5933.6,-24.49],[5935.7,-24.62],[5934,-24.7],[5938.7,-24.39],[5942,-24.51],[5949.4,-24.47],[5951.4,-24.67],[5956.5,-24.64],[5957.3,-24.52],[5964,-24.51],[5969.6,-24.59],[5980.5,-24.5],[5993,-24.48],[5942.3,-24.16],[5947.8,-24.3],[5952.2,-24.37],[5955.5,-24.12],[5955.5,-24.23],[5964,-24.09],[5966.6,-24.24],[5975,-24.11],[5973,-24.27],[5977,-24.31],[5983.5,-24.08],[5993,-24.16],[5996.3,-24.11],[5990.6,-24.34],[6006,-24.23],[6004.4,-24.38],[6007.4,-24.48],[6012.8,-24.21],[6011.8,-24.65],[6020,-24.21],[6020,-24.34],[6024,-24.44],[6005.4,-24.72],[6003.3,-24.79],[6006.3,-24.8],[5994.6,-24.92],[6004.4,-24.97],[6004.8,-25.01],[5991,-25.07],[5988,-25.15],[5995,-25.13],[5994.4,-25.25],[6000.9,-25.24],[5994.4,-25.37],[6010.8,-25.14],[6016.5,-25.22],[6021,-25.06],[6017.5,-24.9],[6024.5,-24.85],[6021,-25.29],[6024,-25.42],[6004.3,-25.67],[6024,-25.69],
[5894,-23.6],[5889,-23.64],[5900,-23.69],[5911,-23.54],[5911.4,-23.7],[5920.5,-23.51],[5927,-23.55],[5924.5,-23.72],[5935.6,-23.67],[5934.6,-23.81],[5888,-23.92],[5894,-23.82],[5898.6,-23.9],[5910.4,-23.84],[5917.5,-23.91],[5915,-24.03],[5921.5,-23.98],[5926.6,-23.93],[5920,-24.14],[5932.6,-24.22],[5936.7,-24.09],[5938.7,-23.94],[5944,-23.66],[5936.7,-23.42],[5954,-23.52],[5950,-23.72],[5955.5,-23.69],[5962,-23.73],[5946.8,-23.83],[5950,-23.95],[5962,-23.87],[5964,-23.86],[5966.4,-23.87],[5974.4,-23.87],[5968,-23.42],[5967,-23.52],[5974.4,-23.42],[5980.5,-23.4],[5979,-23.54],[5978,-23.62],[5983,-23.64],[5981,-23.78],[5987.6,-23.74],[5993,-23.75],[5990,-23.58],[6000.9,-23.52],[6003.3,-23.64],[6013.5,-23.39],[6015.5,-23.52],[6016.5,-23.62],[6014.4,-23.72],[6017.5,-23.74],[6015,-23.91],[6021,-23.93],[6020,-24.03],
[6046.6,-23.52],[6056.7,-23.43],[6060.2,-23.52],[6065.4,-23.52],[6052.7,-23.58],[6054.7,-23.66],[6065.8,-23.62],[6038,-23.62],[6038,-23.76],[6065.4,-23.7],[6070.8,-23.68],[6066.8,-23.81],[6060.8,-23.86],[6057.7,-23.79],[6051.7,-23.91],[6047.2,-23.98],[6062.8,-23.99],[6038.6,-24.06],[6044.6,-24.17],[6046.6,-24.28],[6036,-24.21],[6025.4,-24.3],[6023.8,-24.44],[6053,-24.18],[6063.8,-24.12],[6062.4,-24.24],[6067.4,-24.27],[6072.5,-24.18],[6074.9,-24.03],[6080.5,-23.79],[6080,-23.61],[6091,-23.39],[6091,-23.5],[6095,-23.52],[6099,-23.41],[6104,-23.42],[6101,-23.6],[6108.8,-23.61],[6092,-23.79],[6085.6,-23.81],[6081,-23.92],[6081,-24],[6092,-23.96],[6089,-23.98],[6081,-24.12],[6081,-24.22],[6074.9,-24.37],[6062.8,-24.41],[6070.2,-24.41],[6070.4,-24.51],[6076.3,-24.46],[6060.8,-24.59],[6051.7,-24.44],[6051.3,-24.53],[6046,-24.62],[6038,-24.61],[6040.6,-24.68],[6090,-24.48],[6088,-24.44],[6100.5,-24.46],[6098,-24.3],[6109.6,-24.44],[6113.6,-24.25],[6108.8,-24.1],[6109.8,-23.82],[6113.8,-23.77],[6122,-23.91],[6131.4,-23.99],[6139,-24.08],[6125.4,-24.15],[6127.8,-24.44],[6131,-24.54],[6120.3,-24.52],[6112.6,-24.75],[6143.5,-24.59],[6142,-24.7],[6145.5,-24.74],[6149.2,-24.91],[6136.9,-25.02],[6142,-25.02],[6136.5,-25.16],[6137.5,-25.29],[6144.5,-25.45],[6126.8,-25.63],[6089.4,-25.35],[6100,-25.1],[6078,-25.1],[6095.5,-24.7],[6094.5,-24.64],[6082,-24.78],[6081,-24.62],[6070.9,-24.67],[6070.9,-24.76],[6069.8,-24.82],[6073.9,-24.89],[6032,-24.75],[6036,-24.84],[6024.4,-24.86],[6046.2,-24.89],[6032.5,-25],[6036.5,-25.01],[6033.5,-25.1],[6030.5,-25.23],[6029,-25.4],[6023.8,-25.42],[6024,-25.69],
[6125,-23.47],[6125,-23.64],[6129.4,-23.83],[6133.4,-23.5],[6140.5,-23.41],[6140.5,-23.54],[6144.5,-23.66],[6148.6,-23.5],[6150.6,-23.41],[6158.7,-23.38],[6165.7,-23.43],[6174.8,-23.37],[6179.5,-23.56],[6182.3,-23.45],[6193,-23.49],[6187.5,-23.67],[6193,-23.63],[6195.6,-23.72],[6165.7,-23.74],[6166.7,-23.85],[6168.2,-23.98],[6178.2,-23.7],[6181.5,-23.76],[6188,-23.81],[6187.5,-23.9],[6193,-23.85],[6193,-24.03],[6196,-24.03],[6188,-24.06],[6183,-23.97],[6181.3,-24.06],[6188,-24.19],[6156.6,-24.11],[6154.6,-24.06],[6161.7,-24.24],[6168.4,-24.14],[6168.4,-24.25],[6180.3,-24.3],[6175.8,-24.35],[6172.8,-24.35],[6170.8,-24.4],[6176,-24.46],[6188.3,-24.43],[6157.6,-24.37],[6156.2,-24.45],[6154.2,-24.53],[6167.1,-24.53],[6162,-24.64],[6166.7,-24.73],[6169.2,-24.7],[6171.8,-24.7],[6153.6,-24.76],[6157,-24.76],[6161,-24.77],[6182.3,-24.75],[6168.8,-24.86],[6175.4,-24.84],[6175.4,-24.91],[6191.6,-24.89],[6193.4,-25.06],[6172.8,-25.23]];

// Dense blue chains, estimated by eye
const blueChains=[
[5853,-22.98,-23.28,-23.56,-23.98],
[5857,-23.26,-23.52,-24.02],
[5864,-23.08,-23.3,-23.5,-23.74],
[5869,-23,-23.32,-23.56,-23.96],
[5873,-23.02,-23.26,-23.42,-23.88],
[5877,-23.06,-23.22,-23.6,-23.9],
[5883,-23.4,-23.6,-23.82],
[5897,-23.34,-23.5,-23.98],
[5905,-23.42,-23.58,-23.96],
[5916,-23.42,-23.62,-24.24],
[5930,-23.1,-23.46,-24.38],
[5941,-23.28,-23.58,-24],
[5953,-23.24,-23.62,-24.06],
[5958,-23.42,-23.82,-24.36],
[5971,-23.12,-23.3,-23.56,-24.02],
[5977,-23.04,-23.3,-23.5,-23.74,-24],
[5985,-23.08,-23.46,-23.88],
[5997,-23.4,-23.9],
[6009,-23.14,-23.56,-24.08],
[6022,-23.6,-23.8],
[6042,-23.86,-24.36],
[6050,-23.28,-23.68],
[6059,-23.34,-23.66,-24.28],
[6069,-23.24,-23.44,-23.94],
[6076,-23.5,-23.7,-24.28],
[6086,-23.3,-23.62,-24.1],
[6100,-23.26,-23.7,-24.16],
[6107,-23.14,-23.5,-23.98],
[6112,-22.94,-23.28,-23.54,-24.32],
[6120,-23.14,-23.52,-23.8],
[6128,-23.36,-23.6,-24.3],
[6135,-23,-23.22,-23.76,-24.22],
[6144,-23.26,-23.84,-24.3],
[6152,-23.5,-23.76,-24.22],
[6160,-23.18,-23.52,-23.96],
[6172,-23.44,-23.84,-24.1],
[6185,-23.3,-23.54,-24.34]
];

const expand=cols=>cols.flatMap(([w,...logs])=>logs.map(l=>[w,l]));
const gray=[...expand(grayColumns),...grayIsolated];
const red=[...redLines,...expand(redChains)];
const blue=[...blueLines,...expand(blueChains)];
const ink="#231f20",grayC="#939598",redC="#ee3124",blueC="#2e3192";
const X=d=>d[0],Y=d=>10**d[1];
const rings=(data,c)=>[
  Plot.dot(data,{x:X,y:Y,r:4.4,fill:"#fff",stroke:c,strokeWidth:1.9}),
  Plot.dot(data,{x:X,y:Y,r:0.7,fill:c,stroke:"none"})
];
const chart=Plot.plot({
  width:784,height:551,
  marginLeft:97,marginRight:109,marginTop:58,marginBottom:67,
  style:{fontFamily:'"Liberation Sans",Arial,sans-serif',color:ink,background:"transparent",overflow:"visible"},
  x:{domain:[5850,6200]},
  y:{type:"log",domain:[1e-26,2e-21]},
  marks:[
    Plot.dot(gray,{x:X,y:Y,r:5.6,fill:grayC,stroke:"none"}),
    ...rings(red,redC),
    ...rings(blue,blueC),
    Plot.ruleX([5850],{stroke:ink,strokeWidth:1.8}),
    Plot.ruleY([1e-26],{stroke:ink,strokeWidth:1.8}),
    Plot.axisX(xTicks,{tickSize:8.5,tickPadding:5,fontSize:16.5,strokeWidth:1.5,stroke:ink,fill:ink,label:null,tickFormat:d=>String(d)}),
    Plot.axisX(xMinorTicks,{tickSize:4.5,strokeWidth:1.5,stroke:ink,label:null,tickFormat:()=>""}),
    Plot.axisY(yTicks,{tickSize:9,tickPadding:5,fontSize:16.5,strokeWidth:1.5,stroke:ink,fill:ink,label:null,tickFormat:d=>"1E"+Math.round(Math.log10(d))}),
    Plot.axisY(yMinorTicks,{tickSize:5,strokeWidth:1.5,stroke:ink,label:null,tickFormat:()=>""}),
    Plot.text(["Intensity (cm/molecule)"],{frameAnchor:"left",textAnchor:"middle",dx:-76,dy:3,rotate:-90,fontSize:20.5,fill:ink}),
    Plot.text(["Wavenumber (cm\u207B\u00B9)"],{frameAnchor:"bottom",dy:63,fontSize:20.8,fill:ink})
  ]
});
document.getElementById("chart").appendChild(chart);
</script></body></html>
